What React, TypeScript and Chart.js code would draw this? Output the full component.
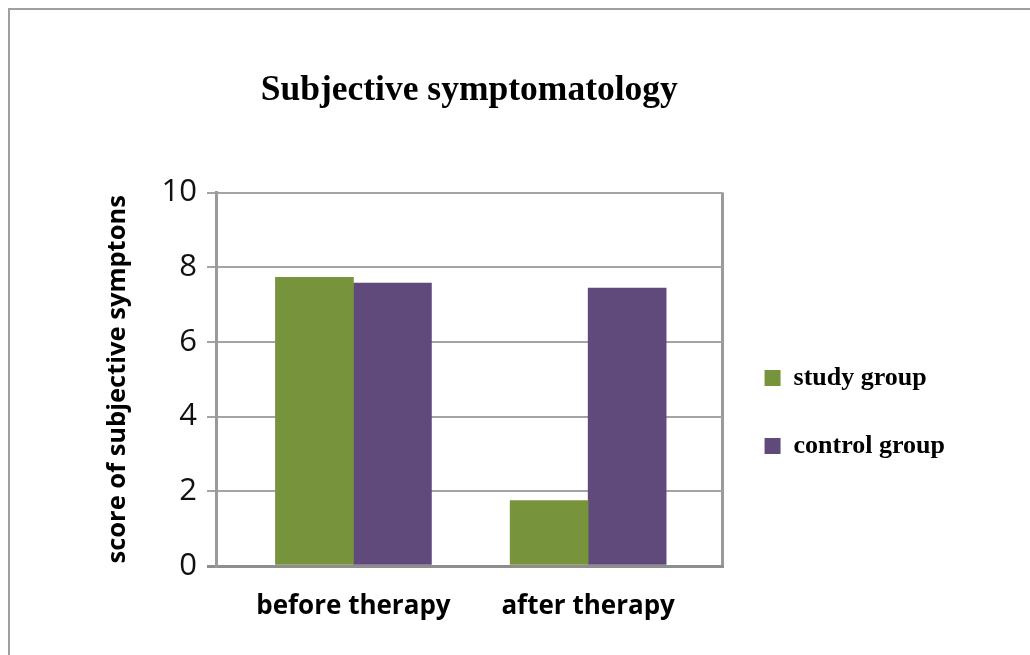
import React, { useEffect, useRef } from 'react';
import { Chart, registerables } from 'chart.js';

Chart.register(...registerables);

const titleText = 'Subjective symptomatology';
const yAxisTitle = 'score of subjective symptons';
const categories = ['before therapy', 'after therapy'];
const seriesNames = ['study group', 'control group'];
const studyGroup = [7.73, 1.75];
const controlGroup = [7.58, 7.44];
const yTicks = [0, 2, 4, 6, 8, 10];
const seriesColors = ['#77933C', '#604A7B'];

const GRID = '#a3a3a3';
const AXIS = '#8e8e8e';
const X_MIN = 0.4145;
const X_MAX = 2.5726;

export default function App() {
  const ref = useRef<HTMLCanvasElement>(null);

  useEffect(() => {
    const toPoints = (vals: number[]) => vals.map((y, i) => ({ x: i + 1, y }));
    const chart = new Chart(ref.current as HTMLCanvasElement, {
      type: 'bar',
      data: {
        datasets: [
          {
            label: seriesNames[0],
            data: toPoints(studyGroup),
            backgroundColor: seriesColors[0],
            borderWidth: 0,
            barThickness: 78,
          },
          {
            label: seriesNames[1],
            data: toPoints(controlGroup),
            backgroundColor: seriesColors[1],
            borderWidth: 0,
            barThickness: 78,
          },
        ],
      } as any,
      options: {
        animation: false,
        responsive: true,
        maintainAspectRatio: false,
        layout: { padding: { left: 0, right: 75, top: 0, bottom: 0 } },
        plugins: {
          tooltip: { enabled: false },
          title: {
            display: true,
            text: titleText,
            fullSize: false,
            color: '#000',
            font: { family: '"Liberation Serif", "Times New Roman", serif', size: 35.5, weight: 'bold' },
            padding: { top: 60, bottom: 80 },
          },
          legend: {
            display: true,
            position: 'right',
            fullSize: false,
            align: 'center',
            title: { display: true, text: '', font: { size: 12 }, padding: { top: 0, bottom: 51 } },
            labels: {
              boxWidth: 16,
              boxHeight: 16,
              padding: 42,
              color: '#000',
              font: { family: '"Liberation Serif", "Times New Roman", serif', size: 26, weight: 'bold' },
            },
          },
        },
        scales: {
          x: {
            type: 'linear',
            min: X_MIN,
            max: X_MAX,
            offset: false,
            grid: {
              display: true,
              offset: false,
              drawTicks: false,
              color: (c: any) => (c.tick && c.tick.value === X_MAX ? '#9a9a9a' : 'rgba(0,0,0,0)'),
              lineWidth: 3,
            },
            border: { display: true, color: AXIS, width: 3 },
            afterBuildTicks: (s: any) => {
              s.ticks = categories.map((_, i) => ({ value: i + 1 })).concat([{ value: X_MAX }]);
            },
            afterFit: (s: any) => {
              s.height = 89;
            },
            ticks: {
              autoSkip: false,
              maxRotation: 0,
              padding: 25,
              color: '#000',
              font: { family: '"Open Sans", sans-serif', size: 26, weight: 'bold' },
              callback: (v: any) => categories[Math.round(Number(v)) - 1] ?? '',
            },
          },
          y: {
            min: 0,
            max: 10,
            afterBuildTicks: (s: any) => {
              s.ticks = yTicks.map((v) => ({ value: v }));
            },
            afterFit: (s: any) => {
              s.width = 206;
            },
            grid: {
              color: (c: any) => (c.tick && c.tick.value === 0 ? AXIS : GRID),
              lineWidth: (c: any) => (c.tick && c.tick.value === 0 ? 3 : 2),
              tickLength: 9,
              drawTicks: true,
            },
            border: { display: true, color: '#9a9a9a', width: 3 },
            ticks: {
              padding: 10,
              color: '#111',
              font: { family: '"Open Sans", sans-serif', size: 31 },
            },
            title: {
              display: true,
              text: yAxisTitle,
              color: '#000',
              font: { family: '"Open Sans", sans-serif', size: 25.5, weight: 'bold' },
              padding: { top: 92, bottom: 0 },
            },
          },
        },
      } as any,
    });
    return () => chart.destroy();
  }, []);

  return (
    <div
      style={{
        position: 'fixed',
        left: 8,
        top: 8,
        width: 1020,
        height: 645,
        borderTop: '2px solid #a0a0a0',
        borderLeft: '2px solid #a0a0a0',
        background: '#fff',
      }}
    >
      <div style={{ position: 'relative', width: 1020, height: 645 }}>
        <canvas ref={ref} />
      </div>
    </div>
  );
}
